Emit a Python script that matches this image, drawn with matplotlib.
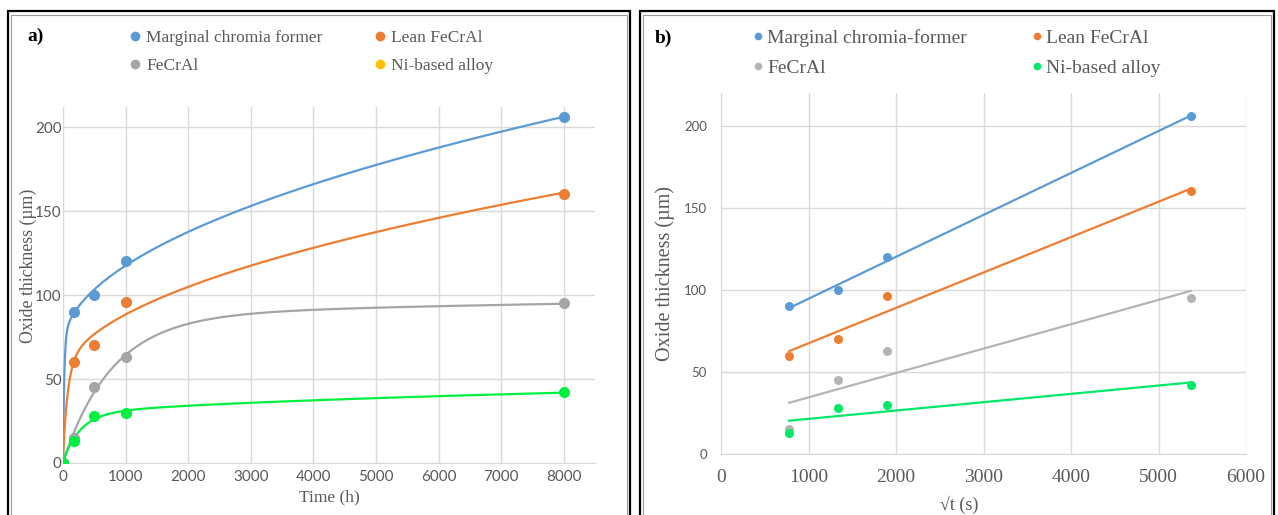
import numpy as np
import matplotlib
matplotlib.use('Agg')
import matplotlib.pyplot as plt
from matplotlib.lines import Line2D
from matplotlib.patches import Rectangle

# exposure time (h) and oxide thickness (um)
time_h = [0, 168, 500, 1000, 8000]
sqrt_t = [778, 1342, 1897, 5367]   # sqrt of time in seconds
marginal = [0, 90, 100, 120, 206]
lean = [0, 60, 70, 96, 160]
fecral = [0, 15, 45, 63, 95]
ni_alloy = [0, 13, 28, 30, 42]

names_a = ['Marginal chromia former', 'Lean FeCrAl', 'FeCrAl', 'Ni-based alloy']
names_b = ['Marginal chromia-former', 'Lean FeCrAl', 'FeCrAl', 'Ni-based alloy']
colors = ['#5B9BD5', '#ED7D31', '#A5A5A5', '#00F040']
legend_colors_a = ['#5B9BD5', '#ED7D31', '#A5A5A5', '#FFC000']
colors_b = ['#5B9BD5', '#ED7D31', '#B4B4B4', '#00E868']

W, H = 1278, 515
SERIF = ['Liberation Serif', 'DejaVu Serif']
SANS = ['Lato', 'DejaVu Sans']
TXT = '#595959'
GRID = '#D9D9D9'


def fit_curve(t, y, t_fine):
    # transient + parabolic growth fit: a*(1-exp(-t/tau)) + k*sqrt(t)
    t = np.asarray(t, float)
    y = np.asarray(y, float)
    best = None
    for tau in np.geomspace(20, 5000, 500):
        A = np.column_stack([1 - np.exp(-t / tau), np.sqrt(t)])
        coef, *_ = np.linalg.lstsq(A, y, rcond=None)
        err = np.sum((A @ coef - y) ** 2)
        if best is None or err < best[0]:
            best = (err, tau, coef)
    _, tau, (a, k) = best
    return a * (1 - np.exp(-t_fine / tau)) + k * np.sqrt(t_fine)


def px(x0, y0, w, h):
    return [x0 / W, 1 - (y0 + h) / H, w / W, h / H]


fig = plt.figure(figsize=(W / 100, H / 100), dpi=100)

# panel frames
for x0, x1 in [(8, 630), (640, 1274)]:
    fig.add_artist(Rectangle((x0 / W, -0.05), (x1 - x0) / W, 1 - 11 / H + 0.05,
                             transform=fig.transFigure, fill=False,
                             edgecolor='black', lw=1.6))
    fig.add_artist(Rectangle(((x0 + 3) / W, -0.05), (x1 - x0 - 6) / W, 1 - 15 / H + 0.05,
                             transform=fig.transFigure, fill=False,
                             edgecolor='#9A9A9A', lw=0.8))

# ---- panel a ----
ax1 = fig.add_axes(px(63, 107, 532, 356))
t_fine = np.linspace(0, 8000, 4001)
series = [marginal, lean, fecral, ni_alloy]
for vals, c in zip(series, colors):
    ax1.plot(t_fine, fit_curve(time_h, vals, t_fine), color=c, lw=1.6, zorder=3)
for vals, c in zip(series, colors):
    ax1.plot(time_h, vals, 'o', color=c, ms=8, mec='none', zorder=4)

ax1.set_xlim(0, 8500)
ax1.set_ylim(0, 212)
ax1.set_xticks(range(0, 8001, 1000))
ax1.set_yticks(range(0, 201, 50))
ax1.grid(True, color=GRID, lw=1)
ax1.set_axisbelow(True)
for s in ['top', 'right', 'left']:
    ax1.spines[s].set_visible(False)
ax1.spines['bottom'].set_color(GRID)
ax1.tick_params(length=0, labelsize=11, labelcolor=TXT)
ax1.tick_params(axis='x', pad=5)
ax1.tick_params(axis='y', pad=1)
for lab in ax1.get_xticklabels() + ax1.get_yticklabels():
    lab.set_family(SANS)
ax1.set_xlabel('Time (h)', family=SERIF, fontsize=12.5, color=TXT)
ax1.xaxis.set_label_coords(0.5, -0.075)
ax1.set_ylabel('Oxide thickness (µm)', family=SERIF, fontsize=12.8, color=TXT)
ax1.yaxis.label.set_va('center')
ax1.yaxis.set_label_coords(-0.066, 0.555)

handles_a = [Line2D([], [], ls='none', marker='o', ms=7, mec='none', color=c)
             for c in legend_colors_a]
order = [0, 2, 1, 3]
leg = fig.legend([handles_a[i] for i in order], [names_a[i] for i in order],
                 loc='upper left', bbox_to_anchor=(130 / W, 1 - 30 / H), ncol=2,
                 frameon=False, borderpad=0, borderaxespad=0,
                 handlelength=0.6, handletextpad=0.35,
                 columnspacing=3.0, labelspacing=0.68,
                 prop={'family': SERIF, 'size': 12.5})
for t in leg.get_texts():
    t.set_color(TXT)
fig.text(27 / W, 1 - 36 / H, 'a)', family=SERIF, fontsize=14, fontweight='bold',
         va='center', ha='left')

# ---- panel b ----
ax2 = fig.add_axes(px(721, 93, 525, 361))
series_b = [marginal[1:], lean[1:], fecral[1:], ni_alloy[1:]]
for vals, c in zip(series_b, colors_b):
    slope, icpt = np.polyfit(sqrt_t, vals, 1)
    xl = np.array([sqrt_t[0], sqrt_t[-1]], float)
    ax2.plot(xl, slope * xl + icpt, color=c, lw=1.6, zorder=3)
for vals, c in zip(series_b, colors_b):
    ax2.plot(sqrt_t, vals, 'o', color=c, ms=6.5, mec='none', zorder=4)

ax2.set_xlim(0, 6000)
ax2.set_ylim(0, 220)
ax2.set_xticks(range(0, 6001, 1000))
ax2.set_yticks(range(0, 201, 50))
ax2.grid(True, color=GRID, lw=1)
ax2.set_axisbelow(True)
for s in ['top', 'right']:
    ax2.spines[s].set_visible(False)
ax2.spines['bottom'].set_color(GRID)
ax2.spines['left'].set_color(GRID)
ax2.tick_params(length=0, labelcolor=TXT)
ax2.tick_params(axis='x', pad=11, labelsize=14)
ax2.tick_params(axis='y', pad=10, labelsize=9.5)
for lab in ax2.get_xticklabels():
    lab.set_family(SERIF)
for lab in ax2.get_yticklabels():
    lab.set_family(SANS)
ax2.set_xlabel('√t (s)', family=SERIF, fontsize=13, color=TXT)
ax2.xaxis.set_label_coords((959 - 721) / 525, -0.115)
ax2.set_ylabel('Oxide thickness (µm)', family=SERIF, fontsize=14.5, color=TXT)
ax2.yaxis.label.set_va('center')
ax2.yaxis.set_label_coords(-0.106, 0.50)

handles_b = [Line2D([], [], ls='none', marker='o', ms=5.5, mec='none', color=c)
             for c in colors_b]
leg2 = fig.legend([handles_b[i] for i in order], [names_b[i] for i in order],
                  loc='upper left', bbox_to_anchor=(753 / W, 1 - 29 / H), ncol=2,
                  frameon=False, borderpad=0, borderaxespad=0,
                  handlelength=0.5, handletextpad=0.22,
                  columnspacing=3.35, labelspacing=0.62,
                  prop={'family': SERIF, 'size': 14})
for t in leg2.get_texts():
    t.set_color(TXT)
fig.text(655 / W, 1 - 38 / H, 'b)', family=SERIF, fontsize=14, fontweight='bold',
         va='center', ha='left')

fig.savefig('out.png', dpi=100)
